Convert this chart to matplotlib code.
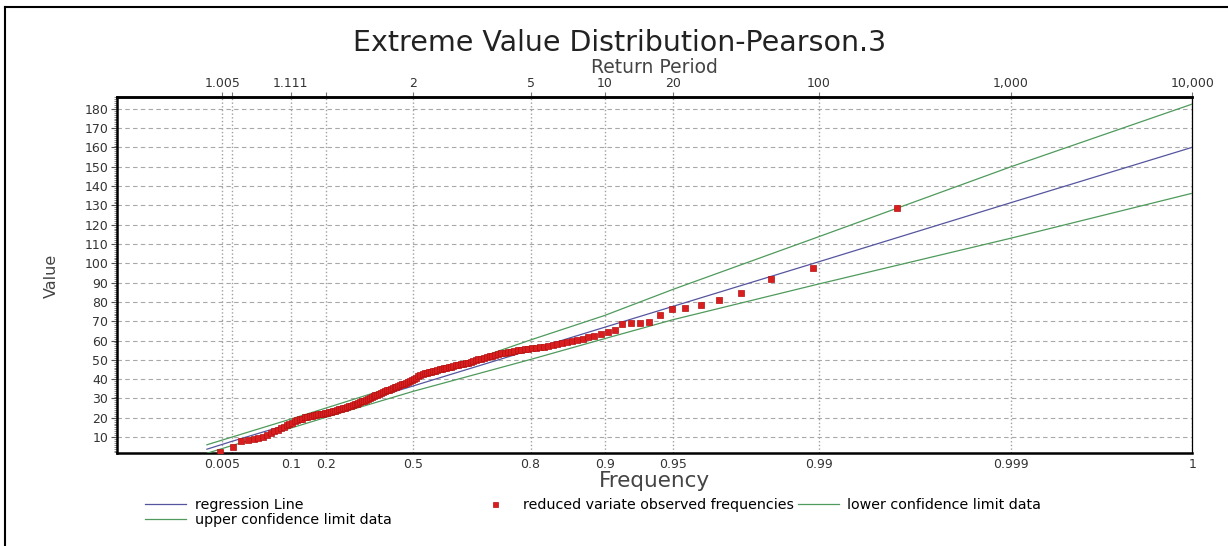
import numpy as np
import matplotlib
matplotlib.use('Agg')
import matplotlib.pyplot as plt
from matplotlib.lines import Line2D

obs_values = [
    2.3, 5.0, 7.8, 8.6, 9.2, 9.6, 10.1, 11.2, 12.3, 13.0,
    13.8, 14.6, 15.4, 16.1, 16.9, 17.5, 18.2, 18.8, 19.2, 19.6,
    20.2, 20.6, 20.9, 21.1, 21.4, 21.6, 21.8, 22.0, 22.2, 22.4,
    22.7, 23.0, 23.2, 23.4, 23.7, 24.0, 24.3, 24.6, 24.8, 25.1,
    25.5, 25.9, 26.3, 26.6, 27.0, 27.3, 27.7, 28.1, 28.5, 28.9,
    29.4, 29.9, 30.4, 30.8, 31.2, 31.6, 32.0, 32.4, 32.8, 33.3,
    33.8, 34.2, 34.6, 35.0, 35.3, 35.7, 36.1, 36.5, 36.9, 37.3,
    37.6, 38.0, 38.4, 38.8, 39.3, 40.0, 40.8, 41.6, 42.3, 42.8,
    43.1, 43.4, 43.6, 43.9, 44.1, 44.4, 44.7, 45.0, 45.3, 45.6,
    45.9, 46.2, 46.5, 46.8, 47.1, 47.4, 47.7, 48.0, 48.3, 48.6,
    49.0, 49.4, 49.8, 50.2, 50.6, 51.0, 51.4, 51.8, 52.2, 52.6,
    53.0, 53.3, 53.7, 54.0, 54.3, 54.6, 54.9, 55.2, 55.5, 55.8,
    56.0, 56.2, 56.5, 56.8, 57.1, 57.5, 58.0, 58.5, 59.0, 59.5,
    60.2, 61.0, 61.8, 62.6, 63.4, 64.3, 65.6, 68.6, 69.0, 69.3,
    69.8, 73.2, 76.3, 76.9, 78.4, 81.0, 84.8, 91.7, 97.7, 128.5,
]

# fitted lines, read at these frequencies
line_freq = [0.001, 0.01, 0.1, 0.2, 0.5, 0.8, 0.9, 0.95, 0.99, 0.999, 0.9999]
regression = [3.7, 7.8, 16.9, 22.6, 36.5, 55.1, 66.9, 77.7, 100.8, 131.4, 160.1]
upper_cl = [6.0, 10.0, 19.3, 25.0, 39.3, 60.3, 73.0, 86.5, 113.8, 150.0, 182.5]
lower_cl = [1.6, 5.6, 14.6, 20.2, 33.7, 50.2, 61.0, 70.8, 89.3, 113.0, 136.3]

freq_ticks = [0.005, 0.01, 0.1, 0.2, 0.5, 0.8, 0.9, 0.95, 0.99, 0.999, 0.9999]
freq_labels = ['0.005', '', '0.1', '0.2', '0.5', '0.8', '0.9', '0.95', '0.99', '0.999', '1']
return_periods = [1.005, 1.0101, 1.111, 1.25, 2, 5, 10, 20, 100, 1000, 10000]
return_labels = ['1.005', '', '1.111', '', '2', '5', '10', '20', '100', '1,000', '10,000']
value_ticks = list(range(10, 190, 10))


def pearson3_k(p):
    # frequency factor for Pearson III with skew 1 (gamma shape 4)
    p = np.asarray(p, dtype=float)
    lo = np.zeros_like(p)
    hi = np.full_like(p, 60.0)
    for _ in range(80):
        mid = (lo + hi) / 2
        cdf = 1 - np.exp(-mid) * (1 + mid + mid**2 / 2 + mid**3 / 6)
        below = cdf < p
        lo = np.where(below, mid, lo)
        hi = np.where(below, hi, mid)
    return ((lo + hi) / 2 - 4) / 2


n = len(obs_values)
obs_freq = (np.arange(1, n + 1) - 0.4) / (n + 0.2)

fig = plt.figure(figsize=(12.28, 5.46), dpi=100)
ax = fig.add_axes([0.0955, 0.1709, 0.8754, 0.6509])

green = '#4f9a5c'
blue = '#55559f'
red = '#d81e1e'

ax.plot(pearson3_k(line_freq), regression, color=blue, lw=0.9, zorder=3)
ax.plot(pearson3_k(line_freq), upper_cl, color=green, lw=0.9, zorder=3)
ax.plot(pearson3_k(line_freq), lower_cl, color=green, lw=0.9, zorder=3)
ax.plot(pearson3_k(obs_freq), obs_values, ls='none', marker='s', ms=4.4,
        mfc=red, mec='#b81010', mew=0.5, zorder=4)

ax.set_xlim(-2.49, float(pearson3_k(0.9999)))
ax.set_ylim(1.9, 186)

# bottom: frequency
ax.set_xticks(pearson3_k(freq_ticks))
ax.set_xticklabels(freq_labels, fontsize=9, color='#333333')
ax.tick_params(axis='x', length=0, pad=4)
ax.set_yticks(value_ticks)
ax.set_yticklabels([str(v) for v in value_ticks], fontsize=9, color='#333333')
ax.set_yticks(np.arange(2, 187, 1), minor=True)
ax.tick_params(axis='y', which='major', length=4.5, width=0.8, pad=2, color='#555555')
ax.tick_params(axis='y', which='minor', length=2, width=0.5, color='#555555')

ax.grid(axis='y', ls=(0, (4, 3)), color='#a8a8a8', lw=0.8)
ax.grid(axis='x', ls=':', color='#a0a0a0', lw=1.0)

# top: return period
top = ax.secondary_xaxis('top')
top.set_xticks(pearson3_k(1 - 1 / np.array(return_periods)))
top.set_xticklabels(return_labels, fontsize=9, color='#333333')
top.tick_params(length=3.5, width=0.8, pad=2, color='#777777')
top.spines['top'].set_linewidth(1.8)

for side in ['left', 'bottom', 'top']:
    ax.spines[side].set_linewidth(1.8)
ax.spines['right'].set_linewidth(0.9)

fig.text(0.5047, 0.921, 'Extreme Value Distribution-Pearson.3', fontsize=20.5,
         ha='center', va='center', color='#222222')
fig.text(0.5326, 0.877, 'Return Period', fontsize=13.5, ha='center', va='center',
         color='#444444')
fig.text(0.5326, 0.119, 'Frequency', fontsize=15.5, ha='center', va='center',
         color='#444444')
fig.text(0.0415, 0.4945, 'Value', fontsize=11.5, rotation=90, ha='center',
         va='center', color='#444444')

# legend
h_reg = Line2D([], [], color=blue, lw=0.9)
h_up = Line2D([], [], color=green, lw=0.9)
h_obs = Line2D([], [], ls='none', marker='s', ms=3.6, mfc=red, mec='#b81010', mew=0.5)
h_low = Line2D([], [], color=green, lw=0.9)
fig.legend([h_reg, h_up], ['regression Line', 'upper confidence limit data'],
           loc='upper left', bbox_to_anchor=(0.118, 0.088), frameon=False,
           fontsize=10.3, handlelength=2.9, handletextpad=0.6,
           labelspacing=0.05, borderaxespad=0, borderpad=0)
fig.legend([h_obs, h_low], ['reduced variate observed frequencies', 'lower confidence limit data'],
           loc='upper left', bbox_to_anchor=(0.386, 0.088), frameon=False, ncol=2,
           fontsize=10.3, handlelength=2.9, handletextpad=0.5, columnspacing=0.3,
           borderaxespad=0, borderpad=0)

# outer frame
fig.add_artist(Line2D([0.004, 0.004], [0.0, 0.987], color='black', lw=1.5))
fig.add_artist(Line2D([0.004, 1.0], [0.987, 0.987], color='black', lw=1.5))

fig.savefig('out.png', dpi=100)
